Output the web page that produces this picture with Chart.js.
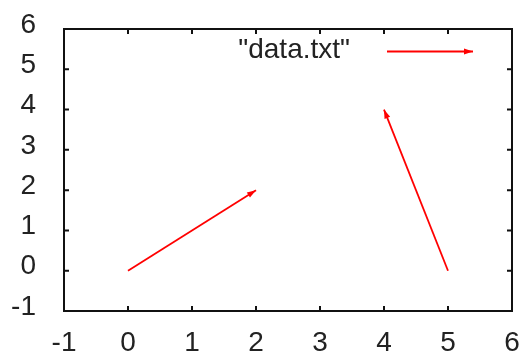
<!DOCTYPE html>
<html>
<head>
<meta charset="utf-8">
<script src="https://cdn.jsdelivr.net/npm/chart.js@4.4.0/dist/chart.umd.min.js"></script>
<style>
  html, body { margin: 0; padding: 0; background: #fff; }
  #wrap { width: 521px; height: 358px; }
</style>
</head>
<body>
<div id="wrap"><canvas id="c" width="521" height="358"></canvas></div>
<script>
// vectors: start point and delta
const xStart = [0, 5];
const yStart = [0, 0];
const xDelta = [2, -1];
const yDelta = [2, 4];
const seriesLabel = '"data.txt"';
const axisMin = -1;
const axisMax = 6;

const RED = '#ff0000';
const FONT = '28px "Liberation Sans", Arial, sans-serif';

const datasets = xStart.map((x0, i) => ({
  data: [
    { x: x0, y: yStart[i] },
    { x: x0 + xDelta[i], y: yStart[i] + yDelta[i] }
  ],
  borderColor: RED,
  borderWidth: 1.8,
  pointRadius: 0,
  showLine: true,
  fill: false
}));

function arrowHead(ctx, x1, y1, x2, y2) {
  const ang = Math.atan2(y2 - y1, x2 - x1);
  const len = 9, half = 3;
  ctx.beginPath();
  ctx.moveTo(x2, y2);
  ctx.lineTo(x2 - len * Math.cos(ang) + half * Math.sin(ang), y2 - len * Math.sin(ang) - half * Math.cos(ang));
  ctx.lineTo(x2 - len * Math.cos(ang) - half * Math.sin(ang), y2 - len * Math.sin(ang) + half * Math.cos(ang));
  ctx.closePath();
  ctx.fill();
}

// keep the plot box where gnuplot put it, labels may overhang
function noPadding(s) {
  s.paddingLeft = 0;
  s.paddingRight = 0;
  s.paddingTop = 0;
  s.paddingBottom = 0;
}

// gnuplot sits its y labels a little above the tick
const liftYLabels = {
  id: 'liftYLabels',
  beforeDraw(chart) {
    chart.scales.y.getLabelItems().forEach(item => {
      if (!item._lifted) {
        item.options.translation[1] -= 4;
        item._lifted = true;
      }
    });
  }
};

const gnuplotFrame = {
  id: 'gnuplotFrame',
  afterDatasetsDraw(chart) {
    const { ctx, chartArea: a, scales } = chart;
    ctx.save();
    // arrow heads at the end of each vector
    ctx.fillStyle = RED;
    xStart.forEach((x0, i) => {
      const px1 = scales.x.getPixelForValue(x0);
      const py1 = scales.y.getPixelForValue(yStart[i]);
      const px2 = scales.x.getPixelForValue(x0 + xDelta[i]);
      const py2 = scales.y.getPixelForValue(yStart[i] + yDelta[i]);
      arrowHead(ctx, px1, py1, px2, py2);
    });

    // frame and inward ticks on all four sides
    ctx.strokeStyle = '#111';
    ctx.lineWidth = 2;
    ctx.strokeRect(a.left, a.top, a.right - a.left, a.bottom - a.top);
    ctx.beginPath();
    for (let v = axisMin + 1; v < axisMax; v++) {
      const px = scales.x.getPixelForValue(v);
      ctx.moveTo(px, a.bottom); ctx.lineTo(px, a.bottom - 5);
      ctx.moveTo(px, a.top); ctx.lineTo(px, a.top + 5);
      const py = scales.y.getPixelForValue(v);
      ctx.moveTo(a.left, py); ctx.lineTo(a.left + 5, py);
      ctx.moveTo(a.right, py); ctx.lineTo(a.right - 5, py);
    }
    ctx.stroke();

    // key, top right inside the plot
    ctx.font = FONT;
    ctx.fillStyle = '#222';
    ctx.textAlign = 'right';
    ctx.textBaseline = 'middle';
    ctx.fillText(seriesLabel, a.right - 162, a.top + 21);
    ctx.strokeStyle = RED;
    ctx.fillStyle = RED;
    ctx.lineWidth = 2;
    const kx1 = a.right - 125, kx2 = a.right - 39, ky = a.top + 22.5;
    ctx.beginPath();
    ctx.moveTo(kx1, ky); ctx.lineTo(kx2, ky);
    ctx.stroke();
    arrowHead(ctx, kx1, ky, kx2, ky);
    ctx.restore();
  }
};

const tickFont = { family: '"Liberation Sans", Arial, sans-serif', size: 28 };

new Chart(document.getElementById('c'), {
  type: 'scatter',
  data: { datasets },
  options: {
    responsive: false,
    animation: false,
    devicePixelRatio: 1,
    layout: { padding: { top: 29, right: 9, left: 0, bottom: 0 } },
    plugins: { legend: { display: false }, tooltip: { enabled: false } },
    scales: {
      x: {
        type: 'linear',
        min: axisMin,
        max: axisMax,
        grid: { display: false, drawTicks: false },
        border: { display: false },
        ticks: { stepSize: 1, color: '#222', font: tickFont, padding: 15, maxRotation: 0 },
        afterFit(s) { s.height = 47; noPadding(s); }
      },
      y: {
        type: 'linear',
        min: axisMin,
        max: axisMax,
        grid: { display: false, drawTicks: false },
        border: { display: false },
        ticks: { stepSize: 1, color: '#222', font: tickFont, padding: 28 },
        afterFit(s) { s.width = 64; noPadding(s); }
      }
    }
  },
  plugins: [liftYLabels, gnuplotFrame]
});
</script>
</body>
</html>
